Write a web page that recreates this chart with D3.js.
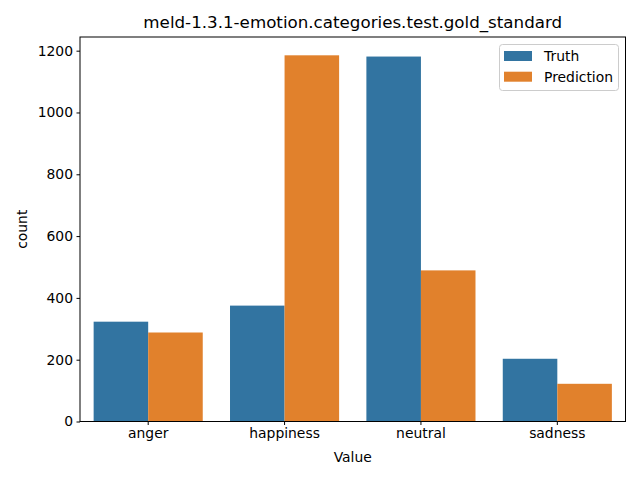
<!DOCTYPE html>
<html><head><meta charset="utf-8">
<script src="https://cdn.jsdelivr.net/npm/d3@7/dist/d3.min.js"></script>
<style>body{margin:0;background:#fff}svg{display:block;font-family:"DejaVu Sans",sans-serif}</style>
</head><body><svg id="c" width="640" height="480"></svg>
<script>
const categories = ["anger","happiness","neutral","sadness"];
const seriesNames = ["Truth","Prediction"];
const truth = [323, 375, 1181, 203];
const prediction = [288, 1185, 489, 122];
const yTicks = [0,200,400,600,800,1000,1200];
const colors = ["#3274a1","#e1812c"];

const svg = d3.select("#c");
const L=80, R=625.5, T=37, B=421.5;
const x = d3.scaleBand().domain(categories).range([L,R]).paddingInner(0.2).paddingOuter(0.1);
const x1 = d3.scaleBand().domain(seriesNames).range([0,x.bandwidth()]);
const y = d3.scaleLinear().domain([0,1185*1.05]).range([B,T]);

const data = categories.map((c,i)=>({c, vals:[truth[i],prediction[i]]}));
const g = svg.append("g");
g.selectAll("g.cat").data(data).join("g").attr("transform",d=>`translate(${x(d.c)},0)`)
 .selectAll("rect").data(d=>d.vals.map((v,j)=>({v,s:seriesNames[j],j})))
 .join("rect").attr("x",d=>x1(d.s)).attr("width",x1.bandwidth())
 .attr("y",d=>y(d.v)).attr("height",d=>B-y(d.v)).attr("fill",d=>colors[d.j]);

// spines
svg.append("rect").attr("x",L).attr("y",T).attr("width",R-L).attr("height",B-T)
 .attr("fill","none").attr("stroke","#000").attr("stroke-width",1);

const yAxis = svg.append("g").attr("transform",`translate(${L},0)`)
 .call(d3.axisLeft(y).tickValues(yTicks).tickSize(3.5).tickPadding(3.5).tickFormat(d3.format("d")));
const xAxis = svg.append("g").attr("transform",`translate(0,${B})`)
 .call(d3.axisBottom(x).tickSize(3.5).tickPadding(3.5));
[yAxis,xAxis].forEach(a=>{a.select(".domain").remove();
 a.selectAll("text").attr("font-size",13.9).attr("fill","#000").attr("font-family","DejaVu Sans");
 a.selectAll("line").attr("stroke","#000");});

svg.append("text").attr("x",(L+R)/2).attr("y",28).attr("text-anchor","middle")
 .attr("font-size",16.7).text("meld-1.3.1-emotion.categories.test.gold_standard");
svg.append("text").attr("x",(L+R)/2).attr("y",462).attr("text-anchor","middle")
 .attr("font-size",13.9).text("Value");
svg.append("text").attr("transform",`translate(27,${(T+B)/2}) rotate(-90)`).attr("text-anchor","middle")
 .attr("font-size",13.9).text("count");

// legend
const lg = svg.append("g");
lg.append("rect").attr("x",499.5).attr("y",44.5).attr("width",119).attr("height",46).attr("rx",3)
 .attr("fill","#fff").attr("fill-opacity",0.8).attr("stroke","#ccc");
seriesNames.forEach((s,i)=>{
 lg.append("rect").attr("x",504).attr("y",51+i*20.7).attr("width",28).attr("height",10).attr("fill",colors[i]);
 lg.append("text").attr("x",544).attr("y",61+i*20.7).attr("font-size",13.9).text(s);
});
</script></body></html>
